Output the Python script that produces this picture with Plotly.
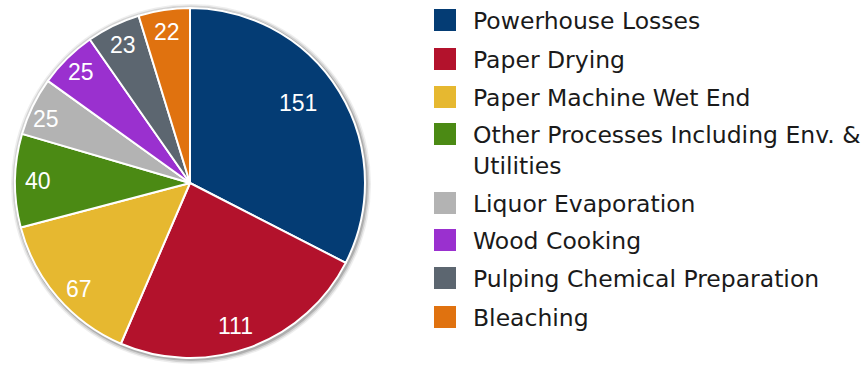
import math
import plotly.graph_objects as go

# Energy losses by process area
labels = [
    "Powerhouse Losses",
    "Paper Drying",
    "Paper Machine Wet End",
    "Other Processes Including Env. &<br>Utilities",
    "Liquor Evaporation",
    "Wood Cooking",
    "Pulping Chemical Preparation",
    "Bleaching",
]
values = [151, 111, 67, 40, 25, 25, 23, 22]
colors = ["#043c74", "#b3122c", "#e6b830", "#4b8a14", "#b3b3b3", "#9a30cf", "#5c6670", "#e0720f"]

W, H = 863, 366
cx, cy, r = 190, 183, 175
FONT = "Liberation Sans, Arial, sans-serif"

fig = go.Figure(
    go.Pie(
        labels=labels,
        values=values,
        sort=False,
        direction="clockwise",
        rotation=0,
        marker=dict(colors=colors, line=dict(color="white", width=2)),
        textinfo="none",
        domain=dict(x=[(cx - r) / W, (cx + r) / W], y=[(H - cy - r) / H, (H - cy + r) / H]),
        showlegend=False,
        hoverinfo="label+value",
    )
)

# soft shadow behind the pie
for d, op in [(5, 0.10), (3.5, 0.18), (2, 0.3)]:
    fig.add_shape(
        type="circle", xref="paper", yref="paper", layer="below",
        x0=(cx - r - d + 1) / W, x1=(cx + r + d + 1) / W,
        y0=(H - cy - r - d - 1) / H, y1=(H - cy + r + d - 1) / H,
        fillcolor=f"rgba(90,90,90,{op})", line=dict(width=0),
    )

# value labels near each slice's mid-angle, placed toward the rim
label_radius = [0.77, 0.86, 0.88, 0.87, 0.9, 0.89, 0.88, 0.87]
label_turn = [-5, 2, -3, 0, -2, 0, 0, 0]  # small angular nudges, degrees
total = sum(values)
cum = 0
for v, fr, dt in zip(values, label_radius, label_turn):
    mid = (cum + v / 2) / total * 2 * math.pi + math.radians(dt)
    cum += v
    px = cx + fr * r * math.sin(mid)
    py = cy - fr * r * math.cos(mid)
    fig.add_annotation(
        x=px / W, y=(H - py) / H, xref="paper", yref="paper",
        xanchor="center", yanchor="middle", showarrow=False,
        text=str(v), font=dict(size=23, color="white", family=FONT),
    )

# legend drawn as squares and text
row_y = [20, 59, 97, 134, 203, 240, 278, 317]
sq = 22
line_gap = 31
for lab, col, yy in zip(labels, colors, row_y):
    fig.add_shape(
        type="rect", xref="paper", yref="paper",
        x0=434 / W, x1=(434 + sq) / W,
        y0=(H - yy - sq / 2) / H, y1=(H - yy + sq / 2) / H,
        fillcolor=col, line=dict(width=0),
    )
    for i, part in enumerate(lab.split("<br>")):
        ty = yy + i * line_gap + 1
        fig.add_annotation(
            x=471 / W, y=(H - ty) / H, xref="paper", yref="paper",
            xanchor="left", yanchor="middle", showarrow=False, align="left",
            text=part, font=dict(size=23.5, color="#1a1a1a", family="DejaVu Sans, sans-serif"),
        )

fig.update_layout(
    width=W, height=H,
    margin=dict(l=0, r=0, t=0, b=0),
    paper_bgcolor="white", plot_bgcolor="white",
)

fig.write_html("out.html")
